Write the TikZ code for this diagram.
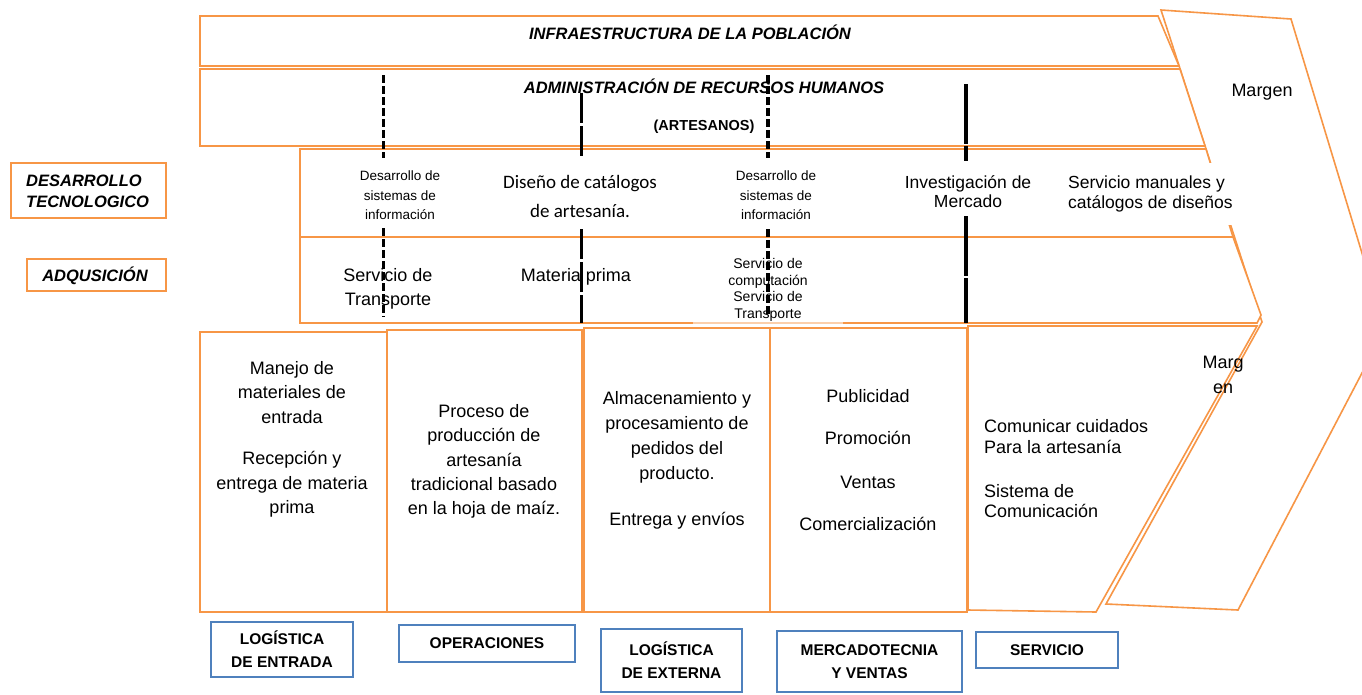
\documentclass[tikz,border=0pt]{standalone}
\usepackage{fontspec}
\setmainfont{Liberation Sans}
\newfontfamily\carlitofont{Carlito}
\definecolor{org}{RGB}{247,150,70}
\definecolor{blu}{RGB}{79,129,189}
\begin{document}
\begin{tikzpicture}[x=1pt,y=-1pt,
  shp/.style={draw=org, line width=1.6pt, fill=white, line join=miter},
  lbl/.style={draw=org, line width=1.6pt, fill=white},
  bluebox/.style={draw=blu, line width=1.6pt, fill=white, align=center, inner sep=0pt,
    font=\fontsize{15.5}{23}\selectfont\bfseries},
  bi/.style={font=\fontsize{16.5}{21}\selectfont\bfseries\itshape, inner sep=0pt, align=left},
  txt/.style={font=\fontsize{18}{24.5}\selectfont, align=center, inner sep=0pt},
  small/.style={font=\fontsize{13.5}{19.5}\selectfont, align=center, inner sep=0pt},
  dl/.style={line width=3pt, black, dash pattern=on 8pt off 3pt},
  dlong/.style={line width=3pt, black, dash pattern=on 30pt off 3pt},
  dsolid/.style={line width=3.6pt, black, dash pattern=on 60pt off 2pt}]
\useasboundingbox (0,0) rectangle (1362,694);
\clip (0,0) rectangle (1362,694);
\fill[white] (0,0) rectangle (1362,694);

% Margin chevron
\path[shp] (1161,10) -- (1291,19) -- (1385,329) -- (1238,610) -- (1106,604) -- (1262,322) -- cycle;

% support activity bars
\path[shp] (200,16) -- (1158,16) -- (1179,66) -- (200,66) -- cycle;
\path[shp] (200,69) -- (1180,69) -- (1205,146) -- (200,146) -- cycle;
\path[shp] (300,149) -- (1206,149) -- (1233,237) -- (300,237) -- cycle;
\path[shp] (300,237) -- (1233,237) -- (1261,315) -- (1257,323) -- (300,323) -- cycle;

% primary activity boxes
\path[shp] (200,332) rectangle (387,612);
\path[shp] (387,330) rectangle (582,612);
\path[shp] (584,328) rectangle (770,612);
\path[shp] (770,328) rectangle (967,612);
\path[shp] (968,326) -- (1257,326) -- (1096,612) -- (968,610) -- cycle;

% left labels
\path[lbl] (11,163) rectangle (166,218);
\path[lbl] (27,259) rectangle (166,291);
\node[bi, anchor=west] (dt) at (26,191.5) {DESARROLLO\\TECNOLOGICO};
\node[bi] (adq) at (95,276) {ADQUSICIÓN};

% bar titles
\node[bi] (infra) at (690,32) {INFRAESTRUCTURA DE LA POBLACIÓN};
\node[bi] (admin) at (704,86) {ADMINISTRACIÓN DE RECURSOS HUMANOS};
\node[font=\fontsize{14.5}{18}\selectfont\bfseries, inner sep=0pt] (art) at (704,127) {(ARTESANOS)};

% technology development row
\node[small] (des1) at (400,195.5) {Desarrollo de\\sistemas de\\información};
\node[font=\fontsize{19}{29}\selectfont\carlitofont, align=center, inner sep=0pt] (dis) at (580,196.5) {Diseño de catálogos\\de artesanía.};
\node[small] (des2) at (776,195.5) {Desarrollo de\\sistemas de\\información};
\node[font=\fontsize{17.5}{19}\selectfont, align=center, inner sep=0pt] (inv) at (968,191.5) {Investigación de\\Mercado};
\node[font=\fontsize{17.5}{20}\selectfont, align=left, fill=white, inner xsep=6pt, minimum height=62pt, anchor=west] (serman) at (1062,194) {Servicio manuales y\\catálogos de diseños};

% procurement row
\node[txt] (st1) at (388,289) {Servicio de\\Transporte};
\node[txt] (mp) at (576,277) {Materia prima};
\fill[white, opacity=0.55] (693,321.3) rectangle (843,323.6);
\node[font=\fontsize{14}{16.7}\selectfont, align=center, inner sep=0pt] (sc) at (768,290) {Servicio de\\computación\\Servicio de\\Transporte};

% primary texts
\node[txt] (b1a) at (292,392.5) {Manejo de\\materiales de\\entrada};
\node[txt] (b1b) at (292,484.5) {Recepción y\\entrega de materia\\prima};
\node[txt, font=\fontsize{18}{24.25}\selectfont] (b2) at (484,461.5) {Proceso de\\producción de\\artesanía\\tradicional basado\\en la hoja de maíz.};
\node[txt, font=\fontsize{18}{25}\selectfont] (b3a) at (677,437.5) {Almacenamiento y\\procesamiento de\\pedidos del\\producto.};
\node[txt] (b3b) at (677,521) {Entrega y envíos};
\node[txt] (b4a) at (868,396) {Publicidad};
\node[txt] (b4b) at (868,438) {Promoción};
\node[txt] (b4c) at (868,482) {Ventas};
\node[txt] (b4d) at (868,524) {Comercialización};
\node[txt, font=\fontsize{18}{21}\selectfont, align=left, anchor=west] (b5a) at (984,436.5) {Comunicar cuidados\\Para la artesanía};
\node[txt, font=\fontsize{18}{20}\selectfont, align=left, anchor=west] (b5b) at (984,501) {Sistema de\\Comunicación};
\node[txt] (marg2) at (1223,375) {Marg\\en};
\node[txt] (marg1) at (1262,92) {Margen};

% dashed vertical lines
\draw[dl] (383,75) -- (383,158);
\draw[dl] (383,228) -- (383,317);
\draw[dlong] (581,93) -- (581,158);
\draw[dlong] (581,229) -- (581,323);
\draw[dl, line width=3.6pt] (768,75) -- (768,158);
\draw[dl, line width=3.6pt] (768,229) -- (768,315);
\draw[dsolid] (966,84) -- (966,161);
\draw[dsolid] (966,216) -- (966,323);

% primary activity labels
\node[bluebox, minimum width=142pt, minimum height=55pt] (le) at (282,649.5) {LOGÍSTICA\\DE ENTRADA};
\node[bluebox, minimum width=176pt, minimum height=37pt] (op) at (487,643.5) {OPERACIONES};
\node[bluebox, minimum width=141pt, minimum height=63pt] (lx) at (671.5,660.5) {LOGÍSTICA\\DE EXTERNA};
\node[bluebox, minimum width=185pt, minimum height=61pt] (mv) at (869.5,661.5) {MERCADOTECNIA\\Y VENTAS};
\node[bluebox, minimum width=142pt, minimum height=36pt] (sv) at (1047,650) {SERVICIO};
\end{tikzpicture}
\end{document}
